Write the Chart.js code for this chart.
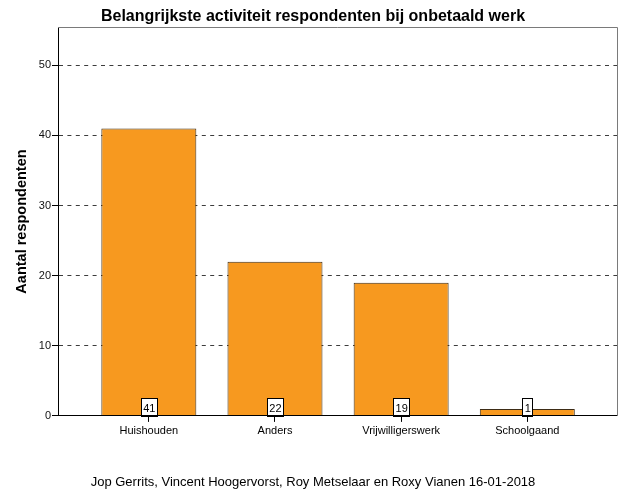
<!DOCTYPE html>
<html>
<head>
<meta charset="utf-8">
<script src="https://cdn.jsdelivr.net/npm/chart.js@4"></script>
<style>
    html, body { margin: 0; padding: 0; background: #fff; }
    #wrap { width: 626px; height: 501px; }
</style>
</head>
<body>
<div id="wrap"><canvas id="activityChart"></canvas></div>
<script>
const categories = ['Huishouden', 'Anders', 'Vrijwilligerswerk', 'Schoolgaand'];
const respondents = [41, 22, 19, 1];
const yTickValues = [0, 10, 20, 30, 40, 50];

const FONT = '"Liberation Sans", Arial, sans-serif';

// little white boxes with the count, sitting on the x axis
const valueBoxes = {
    id: 'valueBoxes',
    afterDatasetsDraw(chart) {
        const ctx = chart.ctx;
        const bottom = chart.chartArea.bottom;
        ctx.save();
        ctx.font = '11px ' + FONT;
        ctx.textAlign = 'center';
        ctx.textBaseline = 'middle';
        ctx.lineWidth = 1;
        chart.getDatasetMeta(0).data.forEach((bar, i) => {
            const txt = String(respondents[i]);
            const w = Math.round(ctx.measureText(txt).width) + 4;
            const h = 18;
            const x = Math.round(bar.x - w / 2) + 0.5;
            const y = Math.round(bottom - h) + 0.5;
            ctx.fillStyle = '#fff';
            ctx.fillRect(x, y, w, h);
            ctx.strokeStyle = '#000';
            ctx.strokeRect(x, y, w, h);
            ctx.fillStyle = '#000';
            ctx.fillText(txt, bar.x + 0.5, y + h / 2 + 1);
        });
        ctx.restore();
    }
};

// gray frame on top and right of the plot
const plotFrame = {
    id: 'plotFrame',
    afterDraw(chart) {
        const { ctx, chartArea: a } = chart;
        ctx.save();
        ctx.strokeStyle = '#7a7a7a';
        ctx.lineWidth = 1;
        ctx.beginPath();
        ctx.moveTo(Math.round(a.left), Math.round(a.top) + 0.5);
        ctx.lineTo(Math.round(a.right) - 0.5, Math.round(a.top) + 0.5);
        ctx.lineTo(Math.round(a.right) - 0.5, Math.round(a.bottom));
        ctx.stroke();
        ctx.restore();
    }
};

function initChart() {
    const canvas = document.getElementById('activityChart');
    const ctx = canvas.getContext('2d');

    new Chart(ctx, {
        type: 'bar',
        data: {
            datasets: [{
                data: respondents.map((v, i) => ({ x: i, y: v })),
                backgroundColor: '#f7991f',
                borderColor: '#3d2c16',
                borderWidth: 1,
                barPercentage: 0.753,
                categoryPercentage: 1
            }]
        },
        plugins: [valueBoxes, plotFrame],
        options: {
            responsive: true,
            maintainAspectRatio: false,
            animation: false,
            layout: { padding: 0 },
            scales: {
                x: {
                    type: 'linear',
                    offset: false,
                    min: -0.72,
                    max: 3.715,
                    afterBuildTicks: scale => {
                        scale.ticks = categories.map((_, i) => ({ value: i }));
                    },
                    afterFit: scale => { scale.height = 56; },
                    grid: {
                        offset: false,
                        drawOnChartArea: false,
                        drawTicks: true,
                        tickLength: 6,
                        tickColor: '#000'
                    },
                    border: { color: '#000', z: 1 },
                    ticks: {
                        autoSkip: false,
                        maxRotation: 0,
                        padding: 2,
                        color: '#000',
                        font: { family: FONT, size: 11 },
                        callback: value => categories[value]
                    }
                },
                y: {
                    min: 0,
                    max: 55.43,
                    afterBuildTicks: scale => {
                        scale.ticks = yTickValues.map(v => ({ value: v }));
                    },
                    afterFit: scale => { scale.width = 58; },
                    grid: {
                        color: '#3c3c3c',
                        lineWidth: 1,
                        drawTicks: true,
                        tickLength: 6,
                        tickColor: '#000',
                        tickBorderDash: []
                    },
                    border: { color: '#000', dash: [4, 4.4], z: 1 },
                    ticks: {
                        padding: 1,
                        color: '#111',
                        font: { family: FONT, size: 11 }
                    },
                    title: {
                        display: true,
                        text: 'Aantal respondenten',
                        color: '#000',
                        font: { family: FONT, size: 14.5, weight: 'bold' },
                        padding: { top: 13, bottom: 0 }
                    }
                },
                // empty strip on the right so the plot ends before the canvas edge
                rightGap: {
                    position: 'right',
                    afterFit: scale => { scale.width = 8.5; },
                    grid: { display: false },
                    border: { display: false },
                    ticks: { display: false }
                }
            },
            plugins: {
                legend: { display: false },
                tooltip: { enabled: false },
                title: {
                    display: true,
                    text: 'Belangrijkste activiteit respondenten bij onbetaald werk',
                    color: '#000',
                    font: { family: FONT, size: 16, weight: 'bold' },
                    padding: { top: 7, bottom: 1.0 }
                },
                subtitle: {
                    display: true,
                    position: 'bottom',
                    text: 'Jop Gerrits, Vincent Hoogervorst, Roy Metselaar en Roxy Vianen 16-01-2018',
                    color: '#000',
                    font: { family: FONT, size: 13 },
                    padding: { top: 3, bottom: 10.5 }
                }
            }
        }
    });
}

document.addEventListener('DOMContentLoaded', initChart);
</script>
</body>
</html>
